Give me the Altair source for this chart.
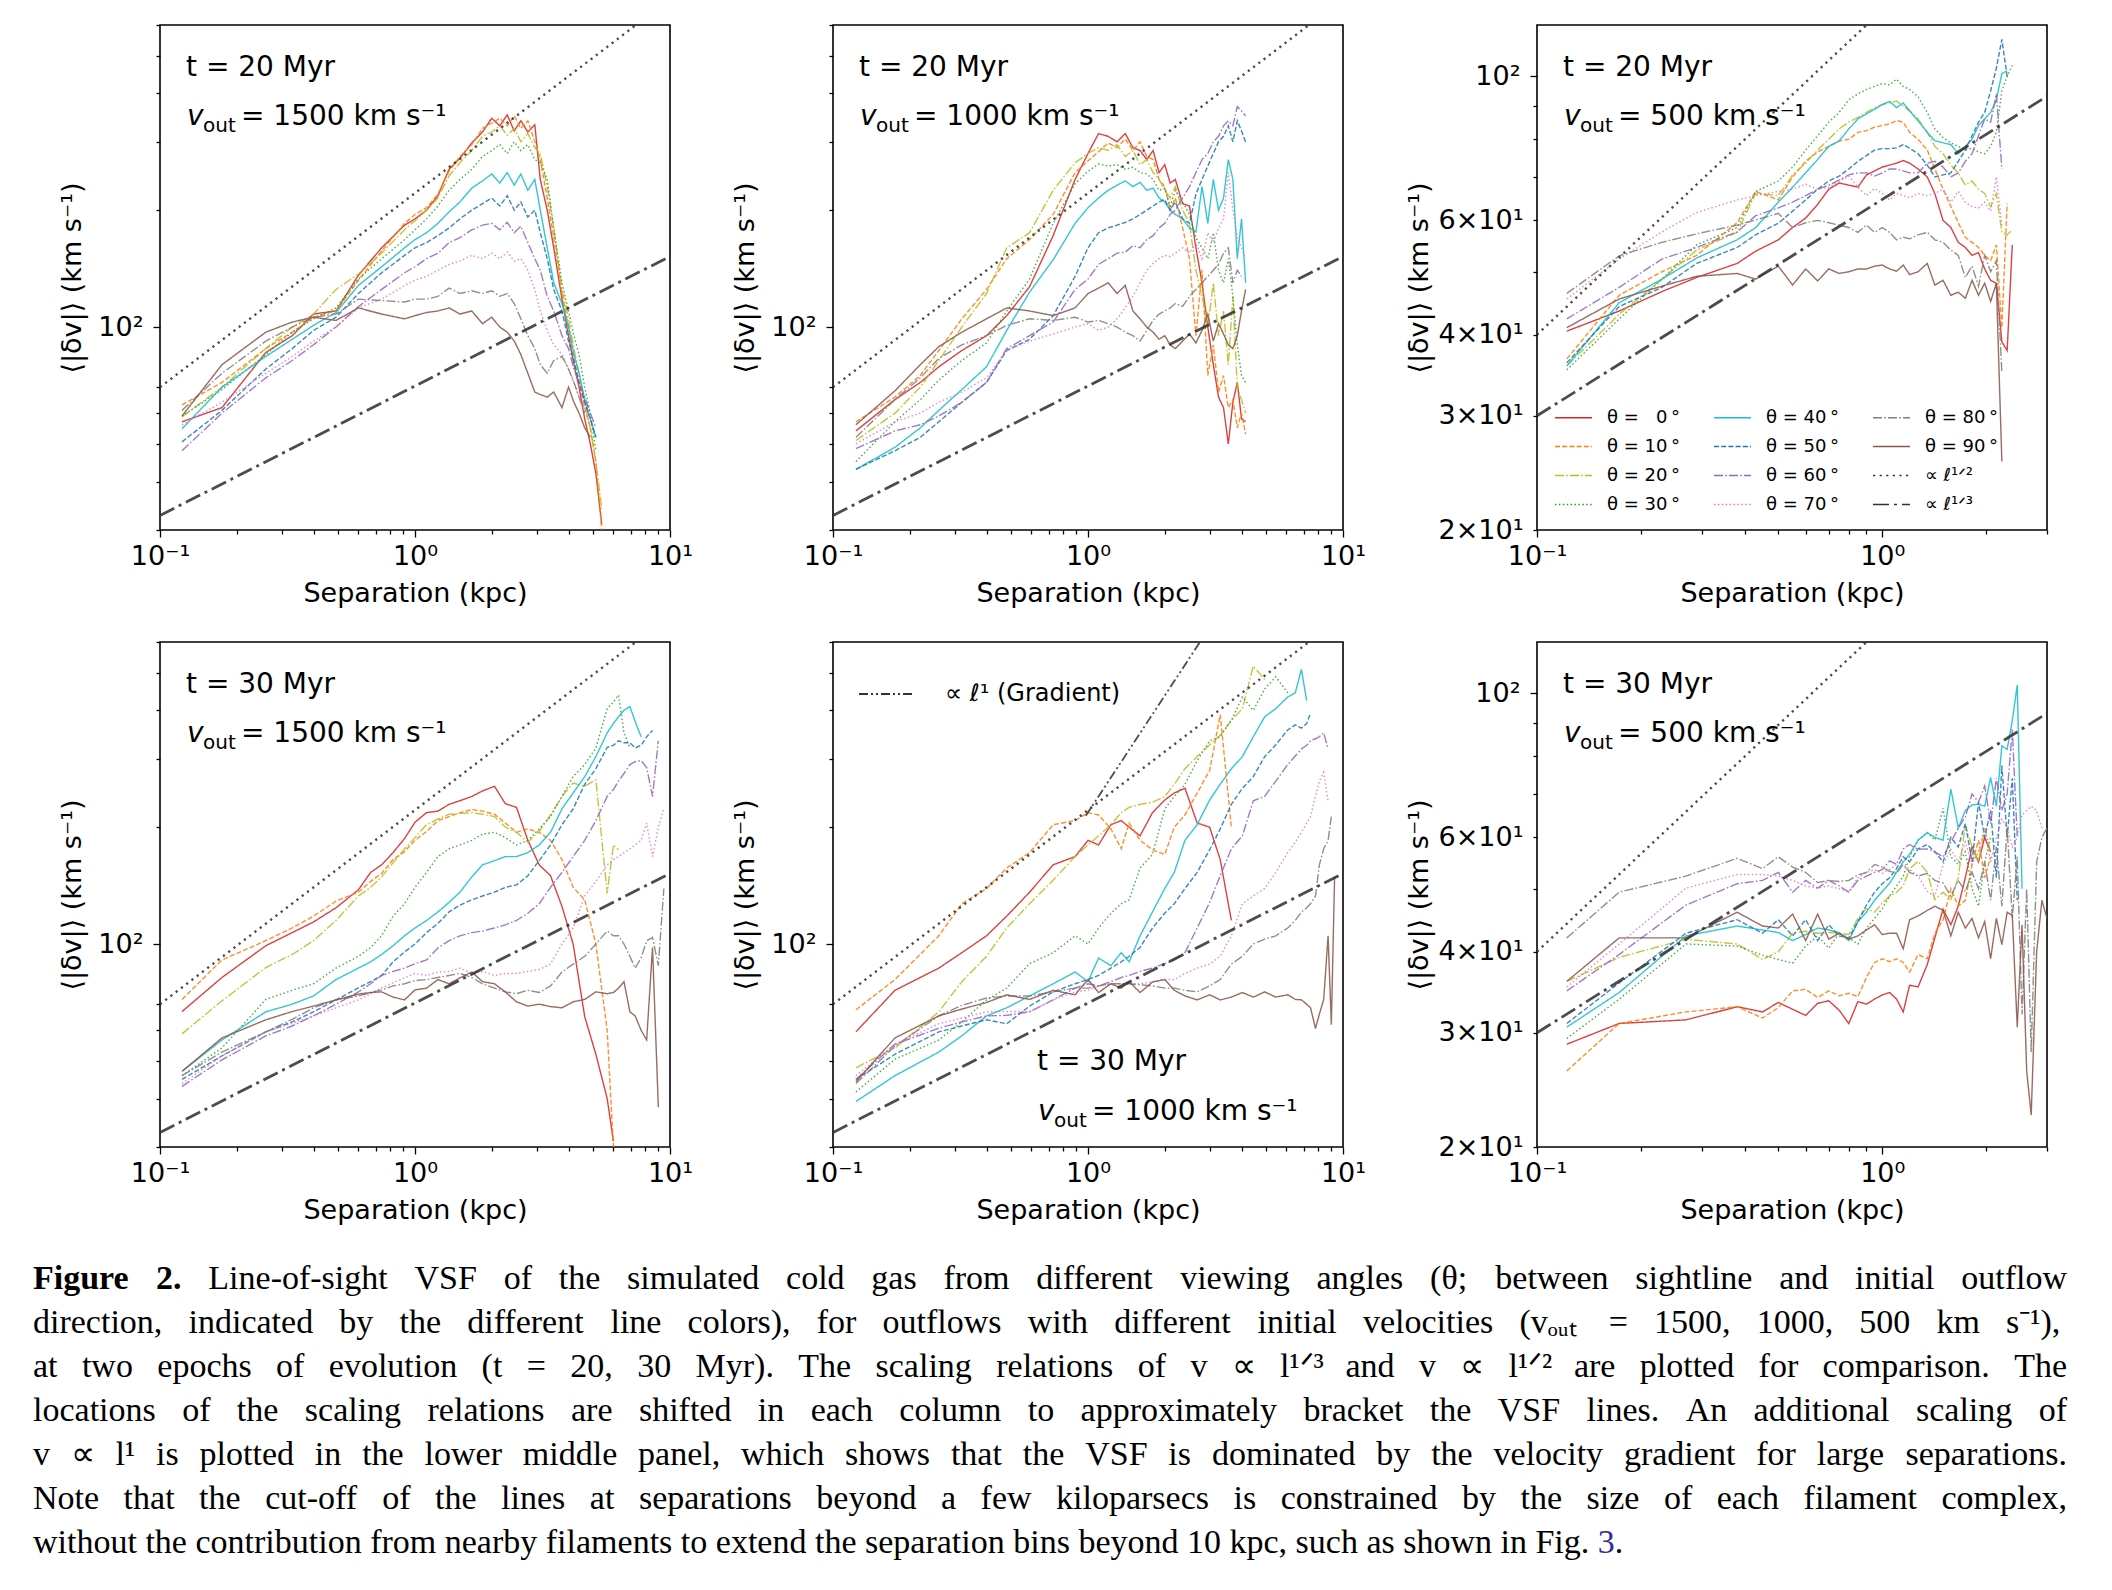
import altair as alt
import pandas as pd

alt.data_transformers.disable_max_rows()

SANS = "DejaVu Sans"
SERIF = "Liberation Serif"

# ---------------- panel 1 : t = 20 Myr, v_out = 1500 ----------------
p1_x = [0.122, 0.175, 0.26, 0.33, 0.40, 0.49, 0.60, 0.74, 0.91, 1.0, 1.11, 1.23, 1.36, 1.5, 1.67, 1.84, 2.0, 2.15,
        2.3, 2.45, 2.6, 2.77, 2.95, 3.1, 3.3, 3.5, 3.77, 4.0, 4.2, 4.4, 4.63, 4.87, 5.12, 5.4]
p1_t00 = [57, 62, 86, 95, 108, 110, 136, 160, 183, 190, 200, 218, 255, 272, 298, 318, 345, 330, 352, 320, 340, 318, 332, 240, 200, 160, 118, 95, 80, 70, 58, 50, 42, 31]
p1_t10 = [63, 72, 88, 97, 106, 110, 132, 157, 185, 195, 203, 220, 252, 275, 295, 325, 335, 345, 330, 350, 325, 340, 300, 270, 215, 170, 122, 100, 82, 72, 62, 55, 45, 30]
p1_t20 = [58.7, 70, 88, 100, 108, 125, 137, 155, 178, 188, 200, 215, 245, 265, 285, 310, 318, 330, 312, 325, 300, 315, 290, 280, 230, 180, 125, 105, 88, 76, 64, 55, 45, 34]
p1_t30 = [59, 69, 85, 97, 105, 112, 133, 150, 168, 178, 190, 205, 225, 240, 255, 275, 285, 295, 280, 300, 285, 295, 270, 265, 240, 180, 130, 110, 95, 85, 70, 60, 48]
p1_t40 = [54.7, 70, 84, 93, 101, 109, 128, 143, 160, 168, 175, 185, 198, 210, 228, 238, 248, 235, 250, 232, 248, 225, 240, 200, 160, 130, 115, 100, 85, 76, 65, 58, 52]
p1_t50 = [50.6, 61, 78, 88, 98, 106, 122, 138, 153, 160, 165, 172, 180, 190, 200, 208, 215, 205, 218, 200, 210, 192, 200, 175, 150, 125, 110, 92, 82, 72, 64, 58, 52]
p1_t60 = [48, 60, 74, 82, 90, 100, 113, 125, 138, 143, 150, 155, 165, 170, 178, 183, 185, 178, 186, 175, 182, 165, 150, 140, 120, 110, 95, 88, 78, 72, 66, 60, 55]
p1_t70 = [56, 64, 76, 84, 92, 100, 112, 118, 128, 132, 135, 140, 145, 148, 153, 150, 155, 150, 156, 148, 150, 140, 125, 110, 98, 90, 85, 78, 72, 66, 62, 58]
p1_t80 = [61, 76, 92, 100, 106, 108, 118, 117, 116, 118, 118, 120, 126, 122, 124, 122, 124, 120, 122, 115, 105, 95, 88, 80, 76, 82, 84, 78, 72, 66, 60]
p1_t90 = [59, 80, 97, 103, 106, 104, 112, 108, 105, 107, 109, 110, 112, 108, 110, 102, 106, 100, 97, 92, 85, 76, 68, 67, 66, 68, 62, 70, 64, 60, 55, 52]

# ---------------- panel 2 : t = 20 Myr, v_out = 1000 ----------------
p2_x = [0.123, 0.175, 0.22, 0.26, 0.32, 0.4, 0.48, 0.59, 0.73, 0.89, 1.0, 1.1, 1.2, 1.3, 1.4, 1.5, 1.6, 1.7, 1.8,
        1.9, 2.0, 2.1, 2.2, 2.35, 2.5, 2.65, 2.8, 2.95, 3.1, 3.25, 3.4, 3.55, 3.7, 3.85, 4.0, 4.15]
p2_t00 = [54, 65, 72, 79, 87, 95, 107, 127, 172, 240, 280, 315, 310, 300, 315, 290, 285, 270, 285, 250, 262, 235, 240, 208, 205, 160, 130, 100, 80, 66, 62, 50, 64, 72, 58, 57]
p2_t10 = [57, 66, 75, 87, 105, 125, 150, 168, 195, 250, 268, 283, 298, 290, 305, 285, 300, 275, 270, 240, 230, 200, 215, 180, 150, 95, 140, 75, 90, 68, 75, 62, 65, 55, 60, 53]
p2_t20 = [51, 60, 70, 82, 100, 122, 160, 175, 225, 265, 280, 290, 285, 295, 275, 285, 262, 270, 250, 240, 225, 215, 230, 200, 185, 140, 120, 100, 130, 95, 110, 80, 120, 70, 65, 60]
p2_t30 = [45, 57, 65, 73, 82, 91, 110, 133, 185, 234, 252, 263, 260, 262, 255, 258, 250, 248, 240, 225, 228, 205, 225, 210, 195, 170, 160, 150, 175, 140, 130, 150, 120, 90, 75, 72]
p2_t40 = [43, 49, 55, 61, 69, 79, 98, 123, 149, 185, 203, 215, 225, 232, 238, 230, 236, 225, 228, 215, 210, 200, 195, 190, 180, 176, 230, 185, 240, 200, 215, 270, 240, 150, 190, 130]
p2_t50 = [43, 48, 52, 57, 64, 72, 87, 93, 107, 135, 160, 175, 180, 183, 186, 190, 195, 200, 205, 210, 213, 200, 210, 190, 185, 220, 240, 260, 280, 300, 310, 330, 300, 340, 320, 300]
p2_t60 = [48.6, 54, 56, 59, 64, 72, 88, 95, 103, 125, 133, 145, 150, 155, 156, 162, 160, 168, 172, 180, 185, 195, 200, 215, 230, 250, 270, 280, 300, 310, 330, 340, 330, 370, 360, 350]
p2_t70 = [50, 57, 60, 64, 68, 74, 87, 92, 96, 100, 102, 98, 100, 105, 112, 120, 130, 140, 146, 150, 153, 152, 155, 160, 155, 165, 150, 175, 165, 180, 190, 250, 200, 170, 160, 150]
p2_t80 = [52, 65, 74, 83, 90, 95, 101, 105, 104, 106, 103, 104, 102, 100, 97, 95, 92, 98, 104, 108, 110, 112, 115, 113, 120, 125, 130, 135, 140, 145, 155, 160, 130, 140, 135]
p2_t90 = [56, 68.5, 80, 89, 97, 105, 112, 110, 107, 112, 122, 126, 130, 122, 128, 110, 105, 100, 97, 93, 95, 90, 88, 92, 96, 91, 98, 108, 92, 102, 96, 90, 88, 95, 110, 125]

# ---------------- panel 3 : t = 20 Myr, v_out = 500 ----------------
p3_x = [0.122, 0.173, 0.23, 0.29, 0.38, 0.43, 0.5, 0.55, 0.6, 0.65, 0.7, 0.75, 0.8, 0.85, 0.9, 0.95, 1.0, 1.05, 1.1,
        1.15, 1.2, 1.27, 1.35, 1.42, 1.5, 1.58, 1.66, 1.74, 1.82, 1.9, 1.98, 2.06, 2.14, 2.22, 2.3, 2.38]
p3_t00 = [40.5, 43.5, 46.6, 49, 51.5, 53.8, 56, 58.5, 60.5, 63.5, 67, 68.5, 68, 67.5, 70.5, 71.5, 72.5, 73, 73.5, 74.2, 73.5, 72, 70, 66, 60, 58.5, 55.5, 54.5, 53, 53.5, 50.5, 48.5, 48, 39, 37.8, 55]
p3_t10 = [36.7, 46, 50, 53, 59.5, 66.5, 64.5, 70, 74, 76.5, 78, 79.5, 80, 82, 82.5, 83.5, 84, 84.5, 85.5, 85, 82, 80, 77, 72, 67, 63, 59.5, 56.5, 55.5, 54.5, 53, 52, 55, 41, 63.7]
p3_t20 = [35.8, 43, 48.7, 54, 57.5, 66, 65.5, 70.5, 73.5, 77, 80, 83, 85, 86.5, 88, 89.5, 90.5, 91, 91.6, 90, 88.5, 86, 82, 78, 76, 73, 71, 68, 69, 67, 66, 63, 66, 57.5, 57, 58]
p3_t30 = [35.3, 42.3, 48.7, 55, 58.5, 66.5, 69, 72.5, 77, 81, 85, 88, 92, 94, 95.5, 96.5, 97.5, 97, 99, 96.5, 95.5, 93, 88, 83, 80.5, 79, 78, 77, 77.5, 76.5, 76, 78, 82, 95, 100, 104]
p3_t40 = [35.8, 44.8, 48.7, 52.5, 56, 58.5, 64, 67.5, 71, 74.5, 78, 79.5, 83, 86, 87.5, 89, 90.5, 91.5, 89.5, 91, 88.5, 85.4, 82, 79.6, 79, 78.5, 76, 78, 80, 84, 86, 88, 92, 101, 102]
p3_t50 = [36.2, 44.2, 47.3, 51.5, 54.5, 57, 59.4, 62, 64.5, 67, 69, 70.2, 72, 74, 75.5, 77, 77.4, 77.4, 77.6, 78.5, 77.5, 76, 73, 70, 70.5, 71, 74, 77, 81, 85, 88, 95, 103, 114, 100]
p3_t60 = [42.3, 47.3, 52.3, 54.5, 57.6, 61, 62.7, 64, 65.5, 67, 68, 69.2, 70.5, 71, 71, 70.2, 71, 72, 72, 71.5, 71, 71, 73.5, 74, 72.5, 70, 71, 74, 76, 81, 86, 85, 94, 72]
p3_t70 = [45.4, 52.3, 57.6, 61.7, 64.5, 65.5, 66.5, 67, 68.2, 67, 67.5, 69, 70.2, 67.5, 65.5, 67.2, 66, 64.5, 66, 65.5, 65, 66, 65.5, 66, 67, 64, 66.5, 64, 63, 62.7, 64, 62, 70, 59]
p3_t80 = [46.3, 52.9, 55.5, 57.2, 59, 60.1, 61.5, 58.5, 59.5, 60, 59.5, 59, 58.5, 57.5, 59, 57.5, 58.5, 57.5, 56, 56.5, 56.2, 57, 57.5, 56, 55.5, 54, 53, 49, 51, 47.5, 53, 50, 52, 35]
p3_t90 = [41, 45.4, 47.5, 49.2, 49.7, 48.7, 51, 47.7, 50.5, 48.4, 50.5, 49.7, 50, 50.5, 50.5, 51, 51.2, 50.5, 50.1, 51.2, 49.5, 50, 51.5, 47.7, 48.5, 46, 46.5, 45.5, 48.5, 46, 48, 45, 48, 25.5]

# ---------------- panel 4 : t = 30 Myr, v_out = 1500 ----------------
p4_x = [0.122, 0.175, 0.26, 0.33, 0.4, 0.49, 0.6, 0.67, 0.74, 0.82, 0.91, 1.0, 1.11, 1.23, 1.36, 1.5, 1.67, 1.84, 2.05,
        2.26, 2.5, 2.77, 3.07, 3.4, 3.77, 4.17, 4.63, 5.12, 5.67, 6.0, 6.28, 6.6, 6.96, 7.3, 7.7, 8.1, 8.54, 9.0, 9.46]
p4_t00 = [67, 82, 99, 107, 114, 124, 138, 153, 160, 172, 187, 206, 218, 220, 229, 234, 240, 248, 255, 230, 225, 185, 160, 150, 125, 100, 65, 52, 40, 31]
p4_t10 = [72, 91, 102, 110, 118, 129, 136, 145, 152, 165, 173, 185, 195, 208, 213, 218, 222, 220, 216, 205, 194, 198, 194, 185, 165, 140, 130, 100, 60, 30]
p4_t20 = [58.7, 71.4, 87, 94, 102, 115, 133, 140, 149, 162, 176, 188, 203, 210, 216, 217, 218, 216, 213, 200, 194, 183, 195, 215, 240, 260, 255, 265, 135, 180, 175]
p4_t30 = [45.8, 54, 72, 76, 79, 86.7, 93, 98, 105, 118, 127, 140, 153, 168, 176, 180, 185, 192, 194, 188, 180, 185, 198, 213, 240, 270, 290, 320, 404, 420, 438, 350, 320]
p4_t40 = [47, 56.6, 66.9, 70, 73.5, 81, 86.7, 90, 94, 99, 105, 110, 115, 121, 128, 136, 149, 160, 164, 168, 168, 172, 180, 194, 223, 245, 270, 304, 350, 370, 385, 400, 409, 375, 342]
p4_t50 = [44.8, 51.5, 59.4, 63, 66.9, 71.8, 77.1, 80, 83, 90, 95.4, 100, 107, 113, 121, 126, 130, 133, 136, 140, 142, 150, 164, 180, 203, 223, 258, 283, 321, 325, 334, 330, 330, 320, 325, 342, 355]
p4_t60 = [43, 50.3, 58, 61.5, 65.3, 70, 75.3, 79, 83, 85, 86.7, 89, 91, 97.7, 102, 105, 107, 108, 110, 112, 115, 120, 127, 140, 153, 168, 185, 208, 240, 250, 263, 275, 290, 295, 297, 285, 240, 334]
p4_t70 = [43.7, 51.5, 59.4, 62.5, 65.3, 68.5, 71.8, 74.5, 77.1, 79.5, 81.8, 84, 83, 84.7, 85, 86.7, 84, 85, 83, 84, 84, 85, 86, 88.8, 100, 110, 133, 145, 160, 165, 168, 172, 176, 180, 185, 205, 168, 200, 223]
p4_t80 = [45.8, 52.7, 59.4, 64, 68.5, 71.8, 73.5, 75, 76.2, 78, 79, 80.5, 81, 82, 83, 84, 82, 79, 77, 75.3, 74.5, 76, 75, 78, 84.7, 88.8, 93, 100, 108, 105, 105, 100, 93, 86.7, 92, 102, 104, 88, 139]
p4_t90 = [47, 57.3, 63.8, 67, 69.2, 71.8, 74.3, 75, 75.3, 73, 71.8, 76.2, 77, 81, 79, 81.8, 84.7, 80, 79, 75.3, 71, 69.2, 70, 69, 68.5, 71, 72, 75.3, 74.5, 75, 77, 80, 66.9, 65.3, 60, 56.6, 98, 38]

# ---------------- panel 5 : t = 30 Myr, v_out = 1000 ----------------
p5_x = [0.123, 0.175, 0.26, 0.32, 0.4, 0.48, 0.59, 0.73, 0.89, 1.0, 1.1, 1.23, 1.35, 1.45, 1.6, 1.79, 2.0, 2.18, 2.4,
        2.68, 3.0, 3.3, 3.65, 4.03, 4.45, 4.93, 5.45, 6.07, 6.5, 6.87, 7.2, 7.46, 7.8, 8.08, 8.4, 8.74, 9.0, 9.27]
p5_t00 = [59.4, 76, 86.7, 95, 105, 118, 136, 160, 168, 185, 180, 203, 208, 200, 190, 218, 235, 245, 252, 205, 200, 165, 115]
p5_t10 = [67.7, 81, 105, 127, 139, 157, 172, 203, 208, 218, 215, 198, 176, 205, 185, 175, 170, 200, 215, 245, 280, 390, 200]
p5_t20 = [48, 54, 66.9, 80, 93, 110, 127, 146, 168, 180, 190, 203, 218, 225, 229, 232, 240, 258, 283, 304, 326, 345, 377, 404, 520, 480]
p5_t30 = [41.6, 50.5, 56.6, 63, 71.8, 77, 89, 95, 105, 100, 110, 120, 127, 130, 157, 170, 223, 240, 258, 297, 334, 342, 377, 433, 400, 454, 488, 444]
p5_t40 = [39.3, 45.8, 52.7, 58, 65.3, 68.5, 73.5, 79, 84.7, 80, 92, 88, 95, 90, 105, 121, 139, 153, 185, 203, 235, 258, 283, 304, 342, 385, 404, 433, 444, 510, 424]
p5_t50 = [44.8, 52, 59.4, 61.5, 63.8, 62.3, 69.2, 75.3, 79, 81, 83, 86.7, 90, 93, 98, 110, 120, 127, 139, 153, 175, 198, 229, 252, 270, 304, 326, 356, 367, 360, 370, 394]
p5_t60 = [44.8, 55.2, 60.7, 63, 65.3, 65.5, 66.9, 71.8, 77, 79, 78, 80, 82, 83, 85, 86.7, 89, 91, 95, 110, 128, 150, 176, 190, 234, 240, 263, 290, 305, 318, 325, 334, 338, 342, 350, 318]
p5_t70 = [45.8, 55.2, 62.3, 64.5, 66.9, 67, 67, 71.8, 75.3, 76, 78, 79, 79, 79, 79, 80, 81, 81, 84, 86.7, 88.8, 93, 105, 127, 133, 139, 153, 172, 183, 194, 205, 213, 240, 263, 277, 234]
p5_t80 = [43.7, 54.6, 65.3, 69.5, 72.6, 73.5, 73.5, 75.3, 77, 77, 78, 79, 79, 79, 78.5, 78, 77, 77, 76, 75.3, 78, 81, 88.8, 93, 100, 103, 105, 110, 115, 121, 124, 127, 133, 160, 176, 185, 213]
p5_t90 = [44.2, 57.3, 65.3, 68, 70.7, 74, 72, 76, 74, 81, 75, 79, 77, 80, 75, 79.8, 81, 76, 73.5, 71.8, 74, 71.8, 73, 75, 73, 75.3, 73, 74, 72, 71.8, 70, 68.5, 60.6, 66, 72, 105, 62, 149]

# ---------------- panel 6 : t = 30 Myr, v_out = 500 ----------------
p6_x = [0.122, 0.173, 0.27, 0.38, 0.45, 0.5, 0.55, 0.6, 0.65, 0.7, 0.75, 0.8, 0.85, 0.9, 0.95, 1.0, 1.05, 1.1, 1.15,
        1.2, 1.27, 1.35, 1.42, 1.5, 1.58, 1.66, 1.74, 1.82, 1.9, 1.98, 2.06, 2.14, 2.22, 2.3, 2.38, 2.46, 2.54, 2.62,
        2.7, 2.8, 2.9, 3.0]
p6_t00 = [28.8, 31, 31.4, 32.9, 32.3, 33.4, 32.6, 31.9, 33.3, 33.6, 32.5, 31, 33.5, 33.2, 33.8, 34.3, 34.6, 33.8, 32.3, 35.5, 35.3, 38.2, 42, 46.5, 44, 47, 52, 58, 55, 60, 57]
p6_t10 = [26.2, 31, 32.3, 32.9, 31.6, 32.8, 34.8, 35, 34, 34.8, 34.2, 34.5, 34.1, 36.5, 38.5, 39, 38.6, 39, 38.5, 37.2, 39.6, 39, 42.7, 44.8, 50, 47, 48, 54.5, 59.4, 52, 56]
p6_t20 = [36, 39.2, 41.8, 41.1, 38.9, 40, 42.7, 43, 42.7, 42.8, 42.7, 42.5, 45, 46.6, 46, 47.5, 48.7, 49.4, 50.5, 53.7, 55.1, 53, 48.1, 49.4, 48, 52, 62.7, 58, 55, 62, 57]
p6_t30 = [29.4, 33.8, 41.1, 40.8, 39.5, 38.9, 38.4, 40.8, 42.3, 40.5, 42.7, 42, 41.1, 43.5, 45, 46.6, 48.7, 50.5, 52.3, 56, 59.4, 61, 59.4, 66.5, 56, 54.5, 57, 50, 47, 55, 60]
p6_t40 = [30.6, 34.6, 42.3, 43.8, 43.2, 42.8, 41.6, 42.5, 43.5, 43.2, 42.8, 41.6, 44.5, 46, 48, 49.5, 51, 53, 55, 56.5, 59.4, 61, 60, 59.4, 71.2, 62, 66, 67.3, 67.5, 67, 74.2, 67, 83, 82, 90.8, 103, 50]
p6_t50 = [31, 35.8, 42.7, 44.8, 42.7, 44.8, 42.3, 44.8, 41.6, 44, 42.3, 42, 44.5, 47.2, 49.4, 50.9, 52, 53.7, 56, 55, 57.6, 58.5, 57, 55, 60, 58, 63, 55, 68, 60, 66, 52, 77.4, 60, 74, 48]
p6_t60 = [34.8, 39.6, 47.2, 50.9, 51.5, 53, 49.4, 51.5, 50.1, 51.5, 50.5, 49.4, 51.5, 52.3, 53, 53.5, 55.2, 54.5, 57.6, 58.5, 57.5, 57.6, 57, 56, 59, 62, 64.5, 70, 68, 72, 63, 74, 66, 70, 88, 60]
p6_t70 = [35.3, 41.1, 50.1, 52.6, 52.6, 52.3, 51.5, 50.5, 50.1, 50.5, 50, 49.4, 52, 53, 53.5, 52.8, 53.5, 54.5, 55, 53.5, 52.3, 49.5, 48.7, 54.5, 57.5, 55, 59, 54.5, 57, 62, 55, 60, 64, 62, 58, 60, 65, 66, 67, 66, 62]
p6_t80 = [42, 49.4, 52.3, 55.7, 53.7, 56, 54, 53, 51.1, 51.5, 51.3, 51.5, 52.5, 53, 54.5, 54, 53.2, 52.8, 54.5, 53, 52.3, 52.8, 51.5, 51, 48.7, 51.5, 49.5, 53, 50, 55, 48, 58, 47, 62, 45, 56, 32, 50, 28, 55, 60, 62]
p6_t90 = [36, 42, 42, 46, 43.8, 43.5, 45.7, 41.6, 45.7, 41.8, 42.7, 41.8, 42.3, 43.2, 44, 42.5, 42.7, 42.7, 40.4, 44.8, 45.4, 46.3, 47, 46.3, 42.3, 46, 43.5, 45, 42, 44.5, 39, 45, 41, 46, 45.5, 30.6, 44, 26.2, 22.4, 40, 48, 45]

# ---------------- scaling-relation guide lines (end points inside the frames) ----------------
half_a_x, half_a_y = [0.1, 7.35], [70, 600]
third_a_x, third_a_y = [0.1, 10.0], [32.7, 152]
half_b_x, half_b_y = [0.1, 0.9], [40, 120]
third_b_x, third_b_y = [0.1, 3.0], [30, 93.2]
grad_x, grad_y = [0.98, 2.75], [214, 600]

# ---------------- labels / ticks ----------------
THETAS = ["θ = \u20070\u2009°", "θ = 10\u2009°", "θ = 20\u2009°", "θ = 30\u2009°", "θ = 40\u2009°",
          "θ = 50\u2009°", "θ = 60\u2009°", "θ = 70\u2009°", "θ = 80\u2009°", "θ = 90\u2009°"]
HALF = "∝ ℓ¹ᐟ²"
THIRD = "∝ ℓ¹ᐟ³"
GRAD = "∝ ℓ¹ (Gradient)"
SERIES = THETAS + [HALF, THIRD, GRAD]
COLORS = ["#d62728", "#ff7f0e", "#bcbd22", "#2ca02c", "#17becf", "#1f77b4", "#9467bd", "#e377c2",
          "#7f7f7f", "#8c564b", "#333333", "#333333", "#333333"]
SOLID, DASHED, DASHDOT, DOTTED = [1, 0], [5, 2.2], [9, 2.2, 1.6, 2.2], [1.5, 2.4]
DASHES = [SOLID, DASHED, DASHDOT, DOTTED, SOLID, DASHED, DASHDOT, DOTTED, DASHDOT, SOLID,
          [2.2, 4.4], [16, 5, 3, 5], [9, 3, 2, 3, 2, 3]]

XT_A = [0.1, 0.2, 0.3, 0.4, 0.5, 0.6, 0.7, 0.8, 0.9, 1, 2, 3, 4, 5, 6, 7, 8, 9, 10]
XT_B = [0.1, 0.2, 0.3, 0.4, 0.5, 0.6, 0.7, 0.8, 0.9, 1, 2, 3]
YT_A = [30, 40, 50, 60, 70, 100, 200, 300, 400, 500, 600]
YT_B = [20, 30, 40, 50, 60, 70, 80, 90, 100]

XL = ("datum.value < 0.15 ? '10⁻¹' : abs(datum.value - 1) < 1e-6 ? '10⁰' : "
      "abs(datum.value - 10) < 1e-6 ? '10¹' : ''")
YL_A = "abs(datum.value - 100) < 1e-6 ? '10²' : ''"
YL_B = ("datum.value == 20 ? '2×10¹' : datum.value == 30 ? '3×10¹' : "
        "datum.value == 40 ? '4×10¹' : datum.value == 60 ? '6×10¹' : "
        "datum.value == 100 ? '10²' : ''")

TICK = {"condition": {"test": "abs(log(datum.value)/LN10 - round(log(datum.value)/LN10)) < 0.001", "value": 7},
        "value": 4}

SW = {"condition": [{"test": f"datum.s === '{HALF}'", "value": 2.4},
                    {"test": f"datum.s === '{THIRD}'", "value": 2.8},
                    {"test": f"datum.s === '{GRAD}'", "value": 1.8}],
      "value": 1.4}

# ---------------- caption text ----------------
CAPTION_BOLD = "Figure 2."
CAPTION_LINES = [
    "Line-of-sight VSF of the simulated cold gas from different viewing angles (θ; between sightline and "
    "initial outflow",
    "direction, indicated by the different line colors), for outflows with different initial velocities "
    "(vₒᵤₜ = 1500, 1000, 500 km s⁻¹),",
    "at two epochs of evolution (t = 20, 30 Myr). The scaling relations of v ∝ l¹ᐟ³ and v ∝ l¹ᐟ² are plotted "
    "for comparison. The",
    "locations of the scaling relations are shifted in each column to approximately bracket the VSF lines. "
    "An additional scaling of",
    "v ∝ l¹ is plotted in the lower middle panel, which shows that the VSF is dominated by the velocity "
    "gradient for large separations.",
    "Note that the cut-off of the lines at separations beyond a few kiloparsecs is constrained by the size of "
    "each filament complex,",
    "without the contribution from nearby filaments to extend the separation bins beyond 10 kpc, such as "
    "shown in Fig.",
]
CAPTION_LINK = "3"

# Times / Liberation Serif advance widths (1/1000 em) used to justify the caption lines
_W = {" ": 250, "!": 333, "(": 333, ")": 333, ",": 250, "-": 333, ".": 250, ";": 278, ":": 278, "=": 564,
      "A": 722, "B": 667, "C": 667, "D": 722, "E": 611, "F": 556, "G": 722, "H": 722, "I": 333, "J": 389,
      "K": 722, "L": 611, "M": 889, "N": 722, "O": 722, "P": 556, "Q": 722, "R": 667, "S": 556, "T": 611,
      "U": 722, "V": 722, "W": 944, "X": 722, "Y": 722, "Z": 611,
      "a": 444, "b": 500, "c": 444, "d": 500, "e": 444, "f": 333, "g": 500, "h": 500, "i": 278, "j": 278,
      "k": 500, "l": 278, "m": 778, "n": 500, "o": 500, "p": 500, "q": 500, "r": 333, "s": 389, "t": 278,
      "u": 500, "v": 500, "w": 722, "x": 500, "y": 500, "z": 444, "θ": 520, "∝": 700, "ₒ": 380, "ᵤ": 380,
      "ₜ": 260, "⁻": 520, "¹": 300, "ᐟ": 330, "²": 300, "³": 300}
_WB = {"F": 611, "i": 278, "g": 500, "u": 556, "r": 444, "e": 444, "2": 500, ".": 250}
CAP_FS = 34
CAP_W = 2034
CAP_LEFT = -127   # caption starts left of the first plot frame, as in the figure


def text_w(word, bold=False):
    table = _WB if bold else _W
    return sum(table.get(c, _W.get(c, 500)) for c in word) * CAP_FS / 1000.0


def caption_rows():
    rows = []
    for i, line in enumerate(CAPTION_LINES):
        toks = [(w, False) for w in line.split(" ")]
        if i == 0:
            toks = [(w, True) for w in CAPTION_BOLD.split(" ")] + toks
        widths = [text_w(w, b) for w, b in toks]
        last = i == len(CAPTION_LINES) - 1
        gap = text_w(" ") if last else (CAP_W - sum(widths)) / (len(toks) - 1)
        x = 0.0
        for (w, b), wd in zip(toks, widths):
            rows.append({"i": i, "px": x, "w": w, "k": "bold" if b else "normal"})
            x += wd + gap
        if last:
            rows.append({"i": i, "px": x, "w": CAPTION_LINK, "k": "link"})
            rows.append({"i": i, "px": x + text_w(CAPTION_LINK), "w": ".", "k": "normal"})
    return pd.DataFrame(rows)


def make_df(grid, series, refs):
    rows = []
    for name, ys in zip(THETAS, series):
        for x, y in zip(grid, ys):
            rows.append((x, y, name))
    for name, xs, ys in refs:
        for x, y in zip(xs, ys):
            rows.append((x, y, name))
    return pd.DataFrame(rows, columns=["x", "y", "s"])


def one(text):
    return pd.DataFrame({"t": [text]})


def annotations(tlab, vlab, x0, yt, yv):
    t = alt.Chart(one(tlab)).mark_text(align="left", baseline="alphabetic", font=SANS, fontSize=28,
                                       color="black").encode(x=alt.value(x0), y=alt.value(yt), text="t:N")
    v = alt.Chart(one("v")).mark_text(align="left", baseline="alphabetic", font=SANS, fontSize=28,
                                      fontStyle="italic", color="black").encode(
        x=alt.value(x0 + 1), y=alt.value(yv), text="t:N")
    o = alt.Chart(one("out")).mark_text(align="left", baseline="alphabetic", font=SANS, fontSize=20,
                                        color="black").encode(x=alt.value(x0 + 17), y=alt.value(yv + 7),
                                                              text="t:N")
    r = alt.Chart(one(vlab)).mark_text(align="left", baseline="alphabetic", font=SANS, fontSize=28,
                                       color="black").encode(x=alt.value(x0 + 55), y=alt.value(yv), text="t:N")
    return [t, v, o, r]


def panel(df, xdom, xt, ydom, yt, yl, ytp, legend, annots):
    lines = alt.Chart(df).mark_line(clip=True, strokeOpacity=0.88, strokeCap="butt").encode(
        x=alt.X("x:Q", scale=alt.Scale(type="log", domain=xdom, nice=False),
                axis=alt.Axis(values=xt, labelExpr=XL, title="Separation (kpc)", tickSize=TICK,
                              labelPadding=6, titlePadding=11)),
        y=alt.Y("y:Q", scale=alt.Scale(type="log", domain=ydom, nice=False),
                axis=alt.Axis(values=yt, labelExpr=yl, title="⟨|δv|⟩ (km s⁻¹)", tickSize=TICK,
                              labelPadding=10, titlePadding=ytp)),
        color=alt.Color("s:N", scale=alt.Scale(domain=SERIES, range=COLORS), legend=legend),
        strokeDash=alt.StrokeDash("s:N", scale=alt.Scale(domain=SERIES, range=DASHES), legend=legend),
        strokeWidth=SW,
    )
    return alt.layer(lines, *annots).properties(width=510, height=505)


L3_VALUES = THETAS + [HALF, THIRD]
LEG3 = alt.Legend(title=None, orient="none", legendX=17, legendY=373, columns=3, symbolType="stroke",
                  symbolSize=1369, symbolStrokeWidth=1.6, labelFont=SANS, labelFontSize=18,
                  labelColor="black", labelOffset=14, labelLimit=400, rowPadding=0, columnPadding=29,
                  values=L3_VALUES, padding=0)
LEG5 = alt.Legend(title=None, orient="none", legendX=25, legendY=24, symbolType="stroke",
                  symbolSize=2916, symbolStrokeWidth=1.8, labelFont=SANS, labelFontSize=24,
                  labelColor="black", labelOffset=31, labelLimit=500, values=[GRAD], padding=0)

refs_a = [(HALF, half_a_x, half_a_y), (THIRD, third_a_x, third_a_y)]
refs_b = [(HALF, half_b_x, half_b_y), (THIRD, third_b_x, third_b_y)]

P1 = panel(make_df(p1_x, [p1_t00, p1_t10, p1_t20, p1_t30, p1_t40, p1_t50, p1_t60, p1_t70, p1_t80, p1_t90], refs_a),
           [0.1, 10], XT_A, [30, 600], YT_A, YL_A, 11, None,
           annotations("t = 20 Myr", "= 1500 km s⁻¹", 26, 51, 100))
P2 = panel(make_df(p2_x, [p2_t00, p2_t10, p2_t20, p2_t30, p2_t40, p2_t50, p2_t60, p2_t70, p2_t80, p2_t90], refs_a),
           [0.1, 10], XT_A, [30, 600], YT_A, YL_A, 11, None,
           annotations("t = 20 Myr", "= 1000 km s⁻¹", 26, 51, 100))
P3 = panel(make_df(p3_x, [p3_t00, p3_t10, p3_t20, p3_t30, p3_t40, p3_t50, p3_t60, p3_t70, p3_t80, p3_t90], refs_b),
           [0.1, 3], XT_B, [20, 120], YT_B, YL_B, 5, LEG3,
           annotations("t = 20 Myr", "= 500 km s⁻¹", 26, 51, 100))
P4 = panel(make_df(p4_x, [p4_t00, p4_t10, p4_t20, p4_t30, p4_t40, p4_t50, p4_t60, p4_t70, p4_t80, p4_t90], refs_a),
           [0.1, 10], XT_A, [30, 600], YT_A, YL_A, 11, None,
           annotations("t = 30 Myr", "= 1500 km s⁻¹", 26, 51, 100))
P5 = panel(make_df(p5_x, [p5_t00, p5_t10, p5_t20, p5_t30, p5_t40, p5_t50, p5_t60, p5_t70, p5_t80, p5_t90],
                   refs_a + [(GRAD, grad_x, grad_y)]),
           [0.1, 10], XT_A, [30, 600], YT_A, YL_A, 11, LEG5,
           annotations("t = 30 Myr", "= 1000 km s⁻¹", 204, 428, 478))
P6 = panel(make_df(p6_x, [p6_t00, p6_t10, p6_t20, p6_t30, p6_t40, p6_t50, p6_t60, p6_t70, p6_t80, p6_t90], refs_b),
           [0.1, 3], XT_B, [20, 120], YT_B, YL_B, 5, None,
           annotations("t = 30 Myr", "= 500 km s⁻¹", 26, 51, 100))


def indep(c):
    return c.resolve_scale(color="independent", strokeDash="independent").resolve_legend(
        color="independent", strokeDash="independent")


row1 = indep(alt.hconcat(P1, P2, P3, spacing=37))
row2 = indep(alt.hconcat(P4, P5, P6, spacing=37))

cap = caption_rows()
xcap = alt.Scale(domain=[0, CAP_W], range=[CAP_LEFT, CAP_LEFT + CAP_W], nice=False, zero=False)
ycap = alt.Scale(domain=[-0.5, 6.5], reverse=True, nice=False, zero=False)


def cap_layer(kind, weight, color):
    return alt.Chart(cap[cap["k"] == kind]).mark_text(
        align="left", baseline="alphabetic", font=SERIF, fontSize=CAP_FS, fontWeight=weight, color=color,
        dy=22).encode(x=alt.X("px:Q", scale=xcap, axis=None), y=alt.Y("i:Q", scale=ycap, axis=None), text="w:N")


caption = alt.layer(cap_layer("normal", "normal", "black"), cap_layer("bold", "bold", "black"),
                    cap_layer("link", "normal", "#2c2c9a")).properties(
    width=CAP_W + CAP_LEFT, height=308, view=alt.ViewBackground(stroke="transparent"))

chart = indep(alt.vconcat(row1, row2, caption, spacing=20)).properties(
    padding={"left": 24, "top": 2, "right": 5, "bottom": 5}
).configure_axis(
    labelFont=SANS, titleFont=SANS, labelFontSize=27, titleFontSize=27, labelColor="black",
    titleColor="black", titleFontWeight="normal", tickColor="black", tickWidth=1.3, domain=False,
    grid=False, labelFlush=False, labelOverlap=False
).configure_view(stroke="black", strokeWidth=1.6)

chart.save("out.html", embed_options={"renderer": "svg", "actions": False})
